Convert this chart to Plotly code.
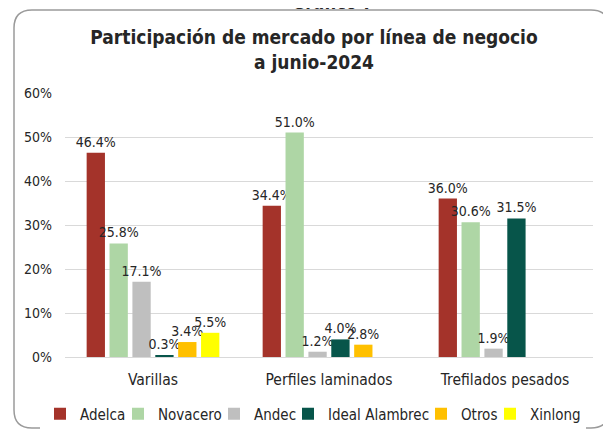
import plotly.graph_objects as go

font_family = "DejaVu Sans Condensed, DejaVu Sans"
label_font_size = 14
ticks_size = 14
category_font_size = 15.5
legend_font_size = 15

## -- DATA

categories = ["Varillas", "Perfiles laminados", "Trefilados pesados"]

adelca = [0.464, 0.344, 0.360]
novacero = [0.258, 0.510, 0.306]
andec = [0.171, 0.012, 0.019]
ideal_alambrec = [0.003, 0.040, 0.315]
otros = [0.034, 0.028, None]
xinlong = [0.055, None, None]

y_ticks = [0, 0.1, 0.2, 0.3, 0.4, 0.5, 0.6]

# name, values, colour, legend entry width
series = [
    ("Adelca", adelca, "#a4332a", 33),
    ("Novacero", novacero, "#aed6a5", 51),
    ("Andec", andec, "#bfbfbf", 29),
    ("Ideal Alambrec", ideal_alambrec, "#07554a", 88),
    ("Otros", otros, "#ffc000", 24),
    ("Xinlong", xinlong, "#ffff00", 51),
]

## -- PAGE GEOMETRY (pixels)
# the page body adds an 8px margin, so the figure is drawn 8px smaller
# and every position below is given in page pixels minus that offset

OFF = 8
W, H = 611 - OFF, 430 - OFF
m_l, m_r, m_t, m_b = 57, 18, 85, 73
plot_w = W - m_l - m_r
plot_h = H - m_t - m_b


def px_x(px):
    return (px - OFF - m_l) / plot_w


def px_y(py):
    return (H - m_b - (py - OFF)) / plot_h


def rounded_box(x0, y0, x1, y1, r):
    # rounded rectangle path in paper units, built from page pixels
    pts = [
        f"M {px_x(x0 + r)},{px_y(y0)}",
        f"L {px_x(x1 - r)},{px_y(y0)}",
        f"Q {px_x(x1)},{px_y(y0)} {px_x(x1)},{px_y(y0 + r)}",
        f"L {px_x(x1)},{px_y(y1 - r)}",
        f"Q {px_x(x1)},{px_y(y1)} {px_x(x1 - r)},{px_y(y1)}",
        f"L {px_x(x0 + r)},{px_y(y1)}",
        f"Q {px_x(x0)},{px_y(y1)} {px_x(x0)},{px_y(y1 - r)}",
        f"L {px_x(x0)},{px_y(y0 + r)}",
        f"Q {px_x(x0)},{px_y(y0)} {px_x(x0 + r)},{px_y(y0)}",
        "Z",
    ]
    return " ".join(pts)


## -- CHART

fig = go.Figure()

for name, values, color, lw in series:
    fig.add_trace(go.Bar(
        x=categories,
        y=values,
        name=name,
        marker_color=color,
        marker_line_width=0,
        texttemplate="%{y:.1%}",
        textposition="outside",
        textfont=dict(size=label_font_size, color="#262626"),
        constraintext="none",
        cliponaxis=False,
        legendwidth=lw,
    ))

fig.update_layout(
    width=W,
    height=H,
    margin=dict(l=m_l, r=m_r, t=m_t, b=m_b, autoexpand=False),
    paper_bgcolor="white",
    plot_bgcolor="white",
    font=dict(family=font_family, color="#262626"),
    barmode="group",
    bargap=0.22,
    bargroupgap=0.2,
    title=dict(
        text="<b>Participación de mercado por línea de negocio<br>a junio-2024</b>",
        x=(314 - OFF) / W,
        xanchor="center",
        y=1 - (44 - OFF) / H,
        yanchor="middle",
        font=dict(size=19, color="#262626"),
    ),
    xaxis=dict(
        showgrid=False,
        showline=True,
        linecolor="#d9d9d9",
        linewidth=1,
        ticks="",
        tickfont=dict(size=category_font_size),
        ticklabelstandoff=8,
    ),
    yaxis=dict(
        range=[0, 0.6],
        tickvals=y_ticks,
        tickformat=".0%",
        showgrid=True,
        gridcolor="#d9d9d9",
        gridwidth=1,
        zeroline=False,
        ticks="",
        tickfont=dict(size=ticks_size),
        ticklabelstandoff=12,
    ),
    legend=dict(
        orientation="h",
        x=px_x(40),
        xanchor="left",
        y=px_y(414),
        yanchor="middle",
        font=dict(size=legend_font_size),
        itemwidth=30,
        traceorder="normal",
    ),
    shapes=[dict(
        type="path",
        xref="paper",
        yref="paper",
        path=rounded_box(14, 10, 609, 428, 18),
        line=dict(color="#9a9a9a", width=1.5),
        layer="below",
    )],
    annotations=[dict(
        text="<b>Gráfico 7</b>",
        xref="paper",
        yref="paper",
        x=px_x(333),
        y=px_y(2),
        xanchor="center",
        yanchor="middle",
        showarrow=False,
        font=dict(size=18, color="#262626"),
    )],
)

fig.write_html("out.html")
